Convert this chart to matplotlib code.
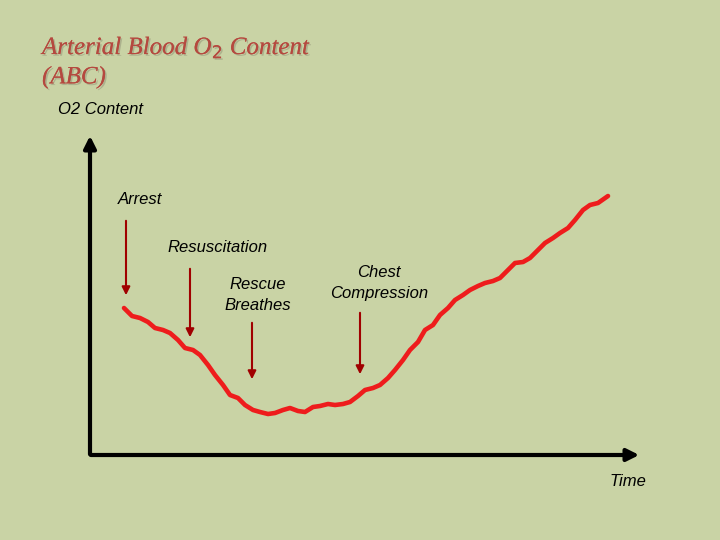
import matplotlib.pyplot as plt
import matplotlib.patheffects as pe

# curve (x = time position, y = pixel height from top)
curve_x = [124, 132, 140, 148, 155, 163, 170, 178, 185, 193, 200, 208, 215, 223, 230, 238,
           245, 253, 260, 268, 275, 283, 290, 298, 305, 313, 320, 328, 335, 343, 350, 358,
           365, 373, 380, 388, 395, 403, 410, 418, 425, 433, 440, 448, 455, 463, 470, 478,
           485, 493, 500, 508, 515, 523, 530, 538, 545, 553, 560, 568, 575, 583, 590, 598, 608]
curve_y = [308, 316, 318, 322, 328, 330, 333, 340, 348, 350, 355, 365, 375, 385, 395, 398,
           405, 410, 412, 414, 413, 410, 408, 411, 412, 407, 406, 404, 405, 404, 402, 396,
           390, 388, 385, 378, 370, 360, 350, 342, 330, 325, 315, 308, 300, 295, 290, 286,
           283, 281, 278, 270, 263, 262, 258, 250, 243, 238, 233, 228, 220, 210, 205, 203, 196]

arrow_labels = ["Arrest", "Resuscitation", "Rescue\nBreathes", "Chest\nCompression"]
arrow_x = [126, 190, 252, 360]
arrow_top = [218, 266, 320, 310]
arrow_bottom = [298, 340, 382, 377]
label_xy = [(140, 200), (218, 248), (258, 295), (379, 283)]

bg = "#c9d3a5"
fig = plt.figure(figsize=(7.2, 5.4), dpi=100, facecolor=bg)
ax = fig.add_axes([0, 0, 1, 1])
ax.set_xlim(0, 720)
ax.set_ylim(540, 0)
ax.axis("off")
ax.set_facecolor(bg)

# axes arrows
ax.annotate("", xy=(90, 133), xytext=(90, 457),
            arrowprops=dict(arrowstyle="-|>", color="black", lw=3, mutation_scale=18))
ax.annotate("", xy=(642, 455), xytext=(88, 455),
            arrowprops=dict(arrowstyle="-|>", color="black", lw=3, mutation_scale=18))

ax.plot(curve_x, curve_y, color="#ee1c1c", lw=3.3, solid_capstyle="round")

for x, t, b in zip(arrow_x, arrow_top, arrow_bottom):
    ax.annotate("", xy=(x, b), xytext=(x, t),
                arrowprops=dict(arrowstyle="-|>", color="#a00000", lw=1.5, mutation_scale=12))
for (lx, ly), lab in zip(label_xy, arrow_labels):
    ax.text(lx, ly, lab, ha="center", va="center", fontsize=12, style="italic",
            family="Liberation Sans", linespacing=1.45)

ax.text(58, 110, "O2 Content", fontsize=12, style="italic", family="Liberation Sans", va="center")
ax.text(628, 482, "Time", fontsize=12, style="italic", family="Liberation Sans",
        ha="center", va="center")

title = ax.text(42, 62, "Arterial Blood O$_2$ Content\n(ABC)", fontsize=18, style="italic",
                family="Liberation Serif", color="#b5493f", va="center", linespacing=1.3)
title.set_path_effects([pe.withSimplePatchShadow(offset=(1.2, -1.2), shadow_rgbFace="#8a8a70",
                                                  alpha=0.45), pe.Normal()])

fig.savefig("out.png", dpi=100, facecolor=bg)
